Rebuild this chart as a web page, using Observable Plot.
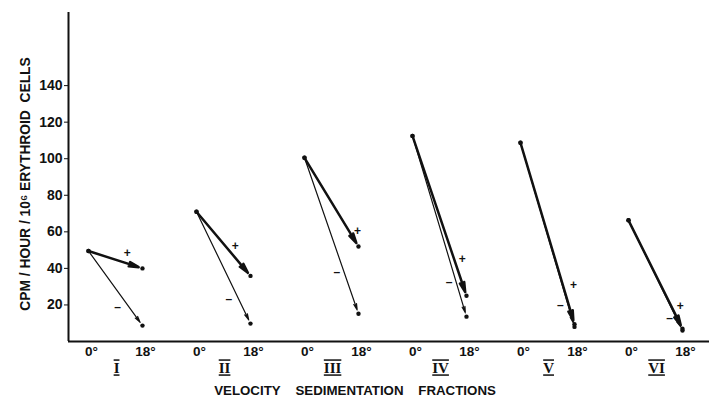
<!DOCTYPE html>
<html><head><meta charset="utf-8">
<script src="https://cdn.jsdelivr.net/npm/d3@7"></script>
<script src="https://cdn.jsdelivr.net/npm/@observablehq/plot@0.6"></script>
<style>body{margin:0;background:#fff} svg{display:block}</style>
</head><body><div id="chart"></div>
<script>
// Velocity sedimentation fractions
const fractions = ["I", "II", "III", "IV", "V", "VI"];
const temperatureLabels = ["0°", "18°"];
// CPM / hour / 10^6 erythroid cells
const cpmAt0 = [49.5, 71, 100.5, 112.5, 108.7, 66.3];
const cpmPlusAt18 = [40, 35.9, 52, 25, 9.5, 7];
const cpmMinusAt18 = [8.7, 9.8, 15.2, 13.6, 8, 6];
const yTicks = [20, 40, 60, 80, 100, 120, 140];
// annotation anchors for the "+" / "-" signs (data units)
const plusSignX = [0.36, 1.36, 2.49, 3.46, 4.49, 5.48];
const plusSignY = [48.4, 52.2, 60.3, 45, 31, 19.6];
const minusSignX = [0.27, 1.30, 2.30, 3.34, 4.37, 5.38];
const minusSignY = [19, 23.4, 38, 32.6, 20, 13];
const yTitle = "CPM / HOUR / 10\u2076 ERYTHROID\u00a0\u00a0CELLS";
const xTitle = "VELOCITY\u00a0\u00a0\u00a0\u00a0SEDIMENTATION\u00a0\u00a0\u00a0\u00a0FRACTIONS";

const tempOffset = [0, 0.5];
const xMin = -0.185, xMax = 5.75;

const arrows = fractions.flatMap((f, i) => [
  {f, cond: "-", x1: i + tempOffset[0], y1: cpmAt0[i], x2: i + tempOffset[1], y2: cpmMinusAt18[i]},
  {f, cond: "+", x1: i + tempOffset[0], y1: cpmAt0[i], x2: i + tempOffset[1], y2: cpmPlusAt18[i]}
]);
const tempLabels = fractions.flatMap((f, i) => temperatureLabels.map((t, j) => ({x: i + tempOffset[j], t})));
const numerals = fractions.map((f, i) => ({x: i + 0.26, f}));
const signs = fractions.flatMap((f, i) => [
  {x: plusSignX[i], y: plusSignY[i], s: "+"},
  {x: minusSignX[i], y: minusSignY[i], s: "\u2013"}
]);

const font = "'Liberation Sans', Arial, Helvetica, sans-serif";
const chart = Plot.plot({
  width: 709, height: 404,
  marginLeft: 68, marginRight: 0, marginTop: 12, marginBottom: 63,
  style: {fontFamily: font, fontWeight: "bold", fontSize: "14px", color: "#111", background: "#fff"},
  x: {domain: [xMin, xMax], axis: null},
  y: {domain: [0, 180], ticks: yTicks, tickSize: 4, tickPadding: 2, label: null},
  marks: [
    Plot.ruleX([xMin], {stroke: "#111", strokeWidth: 2}),
    Plot.ruleY([0], {stroke: "#111", strokeWidth: 2}),
    Plot.arrow(arrows.filter(d => d.cond === "-"), {x1: "x1", y1: "y1", x2: "x2", y2: "y2", stroke: "#111", strokeWidth: 1.2, headLength: 8, headAngle: 26, insetEnd: 4}),
    Plot.arrow(arrows.filter(d => d.cond === "+"), {x1: "x1", y1: "y1", x2: "x2", y2: "y2", stroke: "#111", strokeWidth: 2.5, headLength: 6, headAngle: 26, insetEnd: 4}),
    Plot.dot(arrows, {x: "x2", y: "y2", r: 2.2, fill: "#111", stroke: null}),
    Plot.dot(arrows, {x: "x1", y: "y1", r: 2.2, fill: "#111", stroke: null}),
    Plot.text(signs, {x: "x", y: "y", text: "s", fontSize: 12, fontWeight: "bold", fill: "#111"}),
    Plot.text(tempLabels, {x: "x", y: 0, text: "t", dx: 3, dy: 10, fontSize: 13.5, fontWeight: "bold", fill: "#111"}),
    Plot.text(numerals, {x: "x", y: 0, text: "f", dy: 27, fontSize: 15, fontWeight: "bold", fontFamily: "'Liberation Serif', 'DejaVu Serif', serif", fill: "#111"}),
    Plot.text([yTitle], {frameAnchor: "left", textAnchor: "middle", lineAnchor: "middle", rotate: -90, dx: -43, dy: 7, fontSize: 13.8, fontWeight: "bold", fill: "#111"}),
    Plot.text([xTitle], {frameAnchor: "bottom", textAnchor: "middle", lineAnchor: "middle", dx: -34, dy: 49, fontSize: 13.3, fontWeight: "bold", fill: "#111"})
  ]
});
d3.select(chart).selectAll("text")
  .filter(function() { return fractions.includes(this.textContent); })
  .style("text-decoration", "overline underline");
document.getElementById("chart").appendChild(chart);
</script>
</body></html>
